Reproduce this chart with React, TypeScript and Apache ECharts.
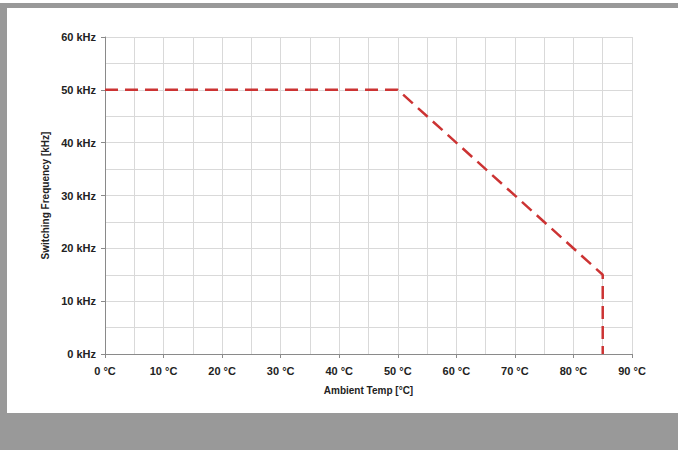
import React, { useEffect, useRef } from "react";
import * as echarts from "echarts";

const tempC: number[] = [0, 50, 85, 85];
const freqKHz: number[] = [50, 50, 15, 0];
const xTicks: number[] = [0, 10, 20, 30, 40, 50, 60, 70, 80, 90];
const yTicks: number[] = [0, 10, 20, 30, 40, 50, 60];

export default function App() {
  const ref = useRef<HTMLDivElement>(null);
  useEffect(() => {
    if (!ref.current) return;
    const chart = echarts.init(ref.current, undefined, { renderer: "svg" });
    const font = "'Liberation Sans', Arial, sans-serif";
    chart.setOption({
      animation: false,
      backgroundColor: "#ffffff",
      graphic: [
        { type: "rect", left: 0, top: 3, shape: { width: 678, height: 5 }, style: { fill: "#999999" } },
        { type: "rect", left: 0, top: 3, shape: { width: 7, height: 447 }, style: { fill: "#999999" } },
        { type: "rect", left: 0, top: 413, shape: { width: 678, height: 37 }, style: { fill: "#999999" } },
      ],
      grid: { left: 105, top: 37, width: 527, height: 317, containLabel: false },
      xAxis: {
        type: "value",
        min: xTicks[0],
        max: xTicks[xTicks.length - 1],
        interval: 10,
        name: "Ambient Temp [°C]",
        nameLocation: "middle",
        nameGap: 31,
        nameTextStyle: { fontFamily: font, fontWeight: "bold", fontSize: 10, color: "#222" },
        axisLine: { show: true, lineStyle: { color: "#8a8a8a", width: 1 } },
        axisTick: { show: true, inside: false, length: 4, lineStyle: { color: "#8a8a8a" } },
        axisLabel: {
          fontFamily: font, fontWeight: "bold", fontSize: 11, color: "#222", margin: 11,
          formatter: (v: number) => `${v} °C`,
        },
        splitLine: { show: true, lineStyle: { color: "#d9d9d9", width: 1 } },
        minorTick: { show: false, splitNumber: 2 },
        minorSplitLine: { show: true, lineStyle: { color: "#d9d9d9", width: 1 } },
      },
      yAxis: {
        type: "value",
        min: yTicks[0],
        max: yTicks[yTicks.length - 1],
        interval: 10,
        name: "Switching Frequency [kHz]",
        nameLocation: "middle",
        nameGap: 54,
        nameRotate: 90,
        nameTextStyle: { fontFamily: font, fontWeight: "bold", fontSize: 10, color: "#222" },
        axisLine: { show: true, lineStyle: { color: "#8a8a8a", width: 1 } },
        axisTick: { show: true, inside: false, length: 4, lineStyle: { color: "#8a8a8a" } },
        axisLabel: {
          fontFamily: font, fontWeight: "bold", fontSize: 11, color: "#222", margin: 9,
          formatter: (v: number) => `${v} kHz`,
        },
        splitLine: { show: true, lineStyle: { color: "#d9d9d9", width: 1 } },
        minorTick: { show: false, splitNumber: 2 },
        minorSplitLine: { show: true, lineStyle: { color: "#d9d9d9", width: 1 } },
      },
      series: [
        {
          type: "line",
          data: tempC.map((t, i) => [t, freqKHz[i]]),
          showSymbol: false,
          symbol: "none",
          lineStyle: { color: "#cc3333", width: 2.5, type: [13, 7] },
        },
      ],
    });
    return () => chart.dispose();
  }, []);
  return (
    <div
      ref={ref}
      style={{ position: "fixed", left: 0, top: 0, width: 678, height: 450 }}
    />
  );
}
